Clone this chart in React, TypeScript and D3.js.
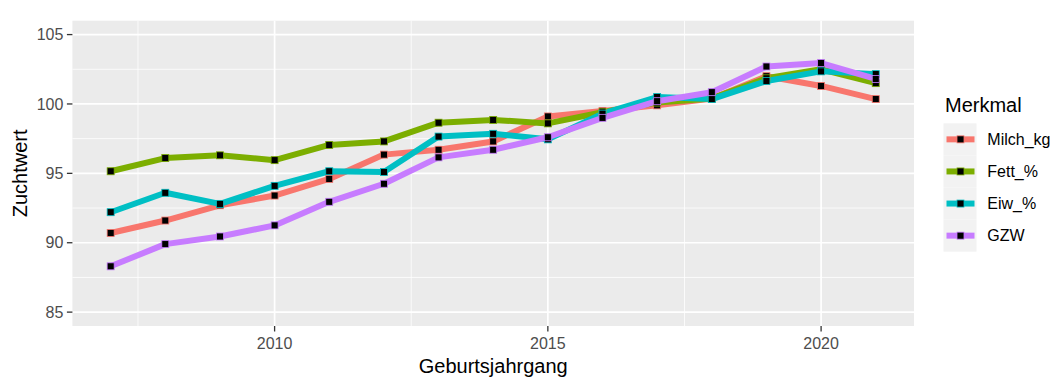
import React from 'react';
import * as d3 from 'd3';

// Geburtsjahrgang
const years = [2007, 2008, 2009, 2010, 2011, 2012, 2013, 2014, 2015, 2016, 2017, 2018, 2019, 2020, 2021];

// Zuchtwerte per Merkmal
const milchKg = [90.7, 91.6, 92.7, 93.4, 94.6, 96.35, 96.7, 97.3, 99.1, 99.5, 99.9, 100.4, 102.0, 101.3, 100.35];
const fett = [95.15, 96.1, 96.3, 95.95, 97.05, 97.3, 98.65, 98.85, 98.6, 99.4, 100.1, 100.4, 101.85, 102.5, 101.5];
const eiw = [92.2, 93.6, 92.8, 94.1, 95.15, 95.1, 97.65, 97.85, 97.45, 99.3, 100.5, 100.35, 101.65, 102.35, 102.15];
const gzw = [88.3, 89.9, 90.45, 91.25, 92.95, 94.25, 96.15, 96.7, 97.6, 99.0, 100.2, 100.85, 102.7, 102.95, 101.8];

const seriesNames = ['Milch_kg', 'Fett_%', 'Eiw_%', 'GZW'];
const seriesValues = [milchKg, fett, eiw, gzw];
const seriesColors = ['#F8766D', '#7CAE00', '#00BFC4', '#C77CFF'];

const xTicks = [2010, 2015, 2020];
const xMinor = [2007.5, 2012.5, 2017.5];
const yTicks = [85, 90, 95, 100, 105];
const yMinor = [87.5, 92.5, 97.5, 102.5];

const FONT = '"Liberation Sans", Arial, sans-serif';

export default function App() {
  const width = 1063;
  const height = 388;
  const panel = { left: 72.4, right: 914, top: 20.7, bottom: 326 };

  const x = d3.scaleLinear().domain([2006.3, 2021.7]).range([panel.left, panel.right]);
  const y = d3.scaleLinear().domain([84, 106]).range([panel.bottom, panel.top]);

  const line = d3
    .line<number>()
    .x((_, i) => x(years[i]))
    .y((d) => y(d));

  const sq = 7;
  const legendX = 943.5;
  const legendTop = 123.3;
  const keyH = 32.1;
  const keyW = 33;

  return (
    <svg
      width={width}
      height={height}
      style={{ position: 'absolute', left: 0, top: 0, display: 'block', background: '#fff' }}
    >
      {/* panel */}
      <rect
        x={panel.left}
        y={panel.top}
        width={panel.right - panel.left}
        height={panel.bottom - panel.top}
        fill="#EBEBEB"
      />
      {yMinor.map((v) => (
        <line key={'ym' + v} x1={panel.left} x2={panel.right} y1={y(v)} y2={y(v)} stroke="#fff" strokeWidth={0.8} />
      ))}
      {xMinor.map((v) => (
        <line key={'xm' + v} x1={x(v)} x2={x(v)} y1={panel.top} y2={panel.bottom} stroke="#fff" strokeWidth={0.8} />
      ))}
      {yTicks.map((v) => (
        <line key={'yg' + v} x1={panel.left} x2={panel.right} y1={y(v)} y2={y(v)} stroke="#fff" strokeWidth={1.7} />
      ))}
      {xTicks.map((v) => (
        <line key={'xg' + v} x1={x(v)} x2={x(v)} y1={panel.top} y2={panel.bottom} stroke="#fff" strokeWidth={1.7} />
      ))}

      {/* lines */}
      {seriesValues.map((vals, i) => (
        <path
          key={'l' + i}
          d={line(vals) || ''}
          fill="none"
          stroke={seriesColors[i]}
          strokeWidth={6}
          strokeLinejoin="round"
        />
      ))}

      {/* points */}
      {seriesValues.map((vals, i) =>
        vals.map((v, j) => (
          <rect
            key={'p' + i + '-' + j}
            x={x(years[j]) - sq / 2}
            y={y(v) - sq / 2}
            width={sq}
            height={sq}
            fill="#000"
            stroke={seriesColors[i]}
            strokeWidth={0.8}
          />
        ))
      )}

      {/* y axis */}
      {yTicks.map((v) => (
        <g key={'yt' + v}>
          <line x1={panel.left - 5.5} x2={panel.left} y1={y(v)} y2={y(v)} stroke="#333" strokeWidth={1.3} />
          <text
            x={panel.left - 9}
            y={y(v)}
            dy="0.36em"
            textAnchor="end"
            fontFamily={FONT}
            fontSize={16}
            fill="#4D4D4D"
          >
            {v}
          </text>
        </g>
      ))}

      {/* x axis */}
      {xTicks.map((v) => (
        <g key={'xt' + v}>
          <line x1={x(v)} x2={x(v)} y1={panel.bottom} y2={panel.bottom + 5.5} stroke="#333" strokeWidth={1.3} />
          <text
            x={x(v)}
            y={348.5}
            textAnchor="middle"
            fontFamily={FONT}
            fontSize={16}
            fill="#4D4D4D"
          >
            {v}
          </text>
        </g>
      ))}

      {/* axis titles */}
      <text
        x={(panel.left + panel.right) / 2}
        y={373.3}
        textAnchor="middle"
        fontFamily={FONT}
        fontSize={20}
        fill="#000"
      >
        Geburtsjahrgang
      </text>
      <text
        transform={`translate(26.5, ${(panel.top + panel.bottom) / 2}) rotate(-90)`}
        textAnchor="middle"
        fontFamily={FONT}
        fontSize={20}
        fill="#000"
      >
        Zuchtwert
      </text>

      {/* legend */}
      <text x={945} y={111.7} fontFamily={FONT} fontSize={20} fill="#000">
        Merkmal
      </text>
      {seriesNames.map((name, i) => {
        const cy = legendTop + keyH * i + keyH / 2;
        return (
          <g key={'lg' + i}>
            <rect x={legendX} y={legendTop + keyH * i} width={keyW} height={keyH} fill="#F2F2F2" />
            <line
              x1={legendX + 3}
              x2={legendX + keyW - 2}
              y1={cy}
              y2={cy}
              stroke={seriesColors[i]}
              strokeWidth={6}
            />
            <rect
              x={legendX + keyW / 2 - sq / 2 + 0.5}
              y={cy - sq / 2}
              width={sq}
              height={sq}
              fill="#000"
              stroke={seriesColors[i]}
              strokeWidth={0.8}
            />
            <text x={987.3} y={cy} dy="0.36em" fontFamily={FONT} fontSize={16} fill="#000">
              {name}
            </text>
          </g>
        );
      })}
    </svg>
  );
}
